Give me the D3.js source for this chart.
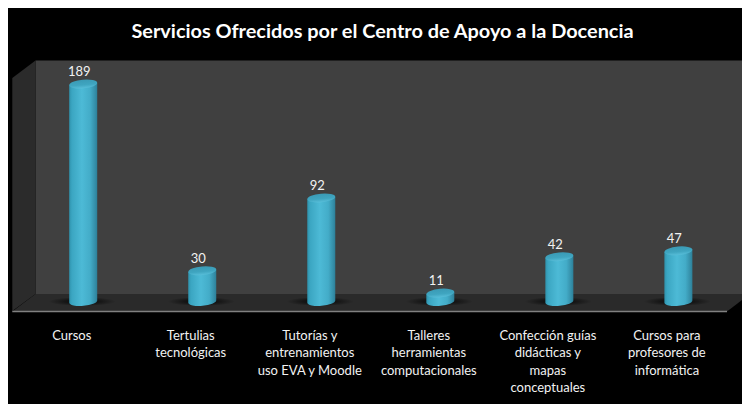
<!DOCTYPE html>
<html><head><meta charset="utf-8">
<script src="https://cdn.jsdelivr.net/npm/d3@7/dist/d3.min.js"></script>
<style>html,body{margin:0;padding:0;background:#fff;overflow:hidden}svg{display:block}text{font-family:Lato,"Open Sans",sans-serif}</style>
</head><body><svg id="c" width="742" height="404"></svg>
<script>
const chartTitle = "Servicios Ofrecidos por el Centro de Apoyo a la Docencia";
const categories = ["Cursos","Tertulias tecnológicas","Tutorías y entrenamientos uso EVA y Moodle","Talleres herramientas computacionales","Confección guías didácticas y mapas conceptuales","Cursos para profesores de informática"];
const categoryLines = [["Cursos"],["Tertulias","tecnológicas"],["Tutorías y","entrenamientos","uso EVA y Moodle"],["Talleres","herramientas","computacionales"],["Confección guías","didácticas y","mapas","conceptuales"],["Cursos para","profesores de","informática"]];
const values = [189,30,92,11,42,47];

const svg = d3.select("#c");
const defs = svg.append("defs");
const W=742,H=404;
svg.append("rect").attr("x",8).attr("y",8).attr("width",W-8).attr("height",H-8).attr("fill","#000");

const x = d3.scaleBand().domain(categories).range([12.2,726.4]);
const y = d3.scaleLinear().domain([0,189]).range([306,84]);
const depthX = 11.5, rx = 14, ry = 4.3, baseY = 301.5, tilt = 1.2;

// walls and floor
svg.append("polygon").attr("points","35.5,60.5 742,60.5 742,294 35.5,294").attr("fill","#404040");
svg.append("polygon").attr("points","12.3,78 35.5,60.5 35.5,294 12.3,311").attr("fill","#2b2b2b");
svg.append("polygon").attr("points","35.5,294 742,294 742,300 727,311.5 12.3,311.5").attr("fill","#2a2a2a");
svg.append("line").attr("x1",12.3).attr("x2",727).attr("y1",311.5).attr("y2",311.5).attr("stroke","#808080").attr("stroke-width",1.3);

// gradients
const g1 = defs.append("linearGradient").attr("id","cyl");
[[0,"#2f93ad"],[.1,"#3ba6c2"],[.45,"#4dbad6"],[.75,"#43acc8"],[.92,"#358fa9"],[1,"#2c8099"]].forEach(s=>g1.append("stop").attr("offset",s[0]).attr("stop-color",s[1]));
const g2 = defs.append("linearGradient").attr("id","capg").attr("x1",0).attr("x2",0).attr("y1",0).attr("y2",1);
[[0,"#3a9ab5"],[.6,"#3fa5c0"],[1,"#58bed9"]].forEach(s=>g2.append("stop").attr("offset",s[0]).attr("stop-color",s[1]));
const g3 = defs.append("radialGradient").attr("id","sh");
[[0,"#000",.7],[.5,"#000",.5],[1,"#000",0]].forEach(s=>g3.append("stop").attr("offset",s[0]).attr("stop-color",s[1]).attr("stop-opacity",s[2]));

const cx = d => x(d)+x.bandwidth()/2+depthX;
const marks = svg.append("g").selectAll("g").data(categories).join("g");
marks.append("ellipse").attr("cx",d=>cx(d)-1).attr("cy",baseY).attr("rx",rx*2.4).attr("ry",4.5).attr("fill","url(#sh)");
marks.append("path").attr("fill","url(#cyl)").attr("d",(d,i)=>{
  const c=cx(d), t=y(values[i]);
  return `M${c-rx},${t+tilt}L${c-rx},${baseY+tilt}A${rx},${ry} -5 0 0 ${c+rx},${baseY-tilt}L${c+rx},${t-tilt}Z`;
});
marks.append("ellipse").attr("cx",0).attr("cy",0).attr("rx",rx).attr("ry",ry)
  .attr("transform",(d,i)=>`translate(${cx(d)},${y(values[i])}) rotate(-5)`).attr("fill","url(#capg)");

// data labels
svg.append("g").selectAll("text").data(categories).join("text")
  .attr("x",d=>cx(d)-4).attr("y",(d,i)=>y(values[i])-8).attr("text-anchor","middle")
  .attr("fill","#f2f2f2").attr("font-size",13).text((d,i)=>values[i]);

// category labels
svg.append("g").selectAll("text").data(categories).join("text")
  .attr("text-anchor","middle").attr("fill","#f2f2f2").attr("font-size",13)
  .each(function(d,i){
    d3.select(this).selectAll("tspan").data(categoryLines[i]).join("tspan")
      .attr("x",x(d)+x.bandwidth()/2).attr("y",(l,j)=>340+j*17.4).text(l=>l);
  });

svg.append("text").attr("x",382.5).attr("y",37.5).attr("text-anchor","middle").attr("fill","#fff")
  .attr("font-size",19.9).attr("font-weight",700).text(chartTitle);
</script></body></html>
